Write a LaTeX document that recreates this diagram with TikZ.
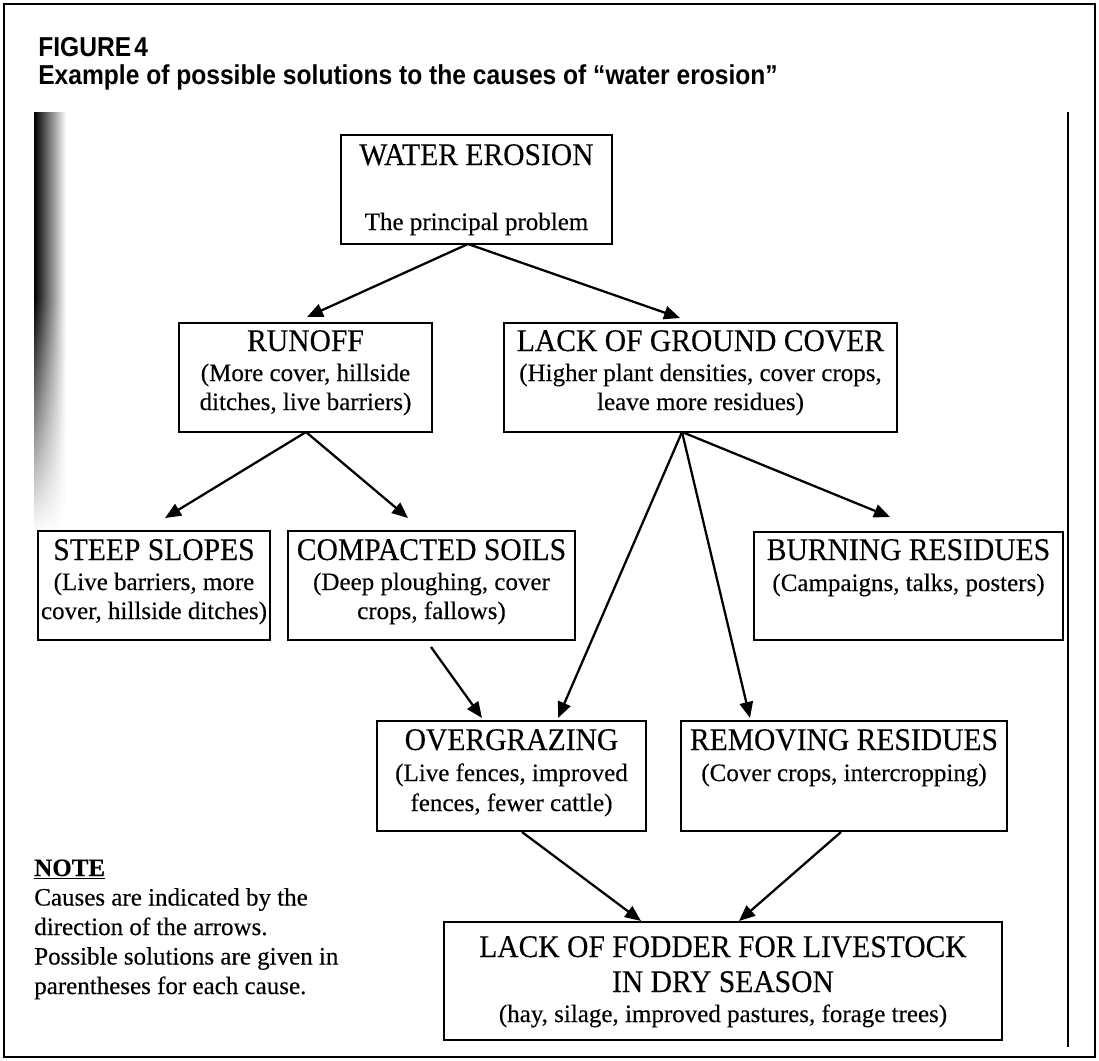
\documentclass[tikz,border=0pt]{standalone}
\usepackage{fontspec}
\setmainfont{Liberation Serif}[FakeBold=0.3]
\newfontfamily\titlefont{Liberation Sans}[FakeStretch=0.9]
\newfontfamily\headfont{Liberation Serif}[FakeStretch=0.94,FakeBold=0.3]
\usetikzlibrary{arrows.meta,fit,fadings}

\tikzset{
  box/.style={draw, line width=1.9pt, inner sep=0pt},
  title/.style={font=\titlefont\bfseries\fontsize{20.5pt}{24pt}\selectfont, anchor=base west, inner sep=0pt},
  head/.style={font=\headfont\fontsize{23.6pt}{28pt}\selectfont, anchor=base, inner sep=0pt},
  sub/.style={font=\fontsize{18.75pt}{22pt}\selectfont, anchor=base, inner sep=0pt},
  note/.style={sub, anchor=base west},
  cause/.style={-{Triangle[length=12pt,width=10pt]}, line width=1.7pt},
}

\begin{document}
\begin{tikzpicture}[x=0.75pt,y=-0.75pt]
\useasboundingbox (0,0) rectangle (1099,1060);

% outer frame
\draw[line width=2pt] (4,4) rectangle (1095,1057);

% figure title
\node[title] (fig) at (38,56) {FIGURE\hspace{0.12em}4};
\node[title] (caption) at (38,84) {Example of possible solutions to the causes of “water erosion”};

% dark page edge on the left and rule on the right
\shade[left color=black, middle color=black!35, right color=white] (34,112) rectangle (66,530);
\fill[white, path fading=north] (33,300) rectangle (67,531);
\draw[line width=1.4pt] (1068,112) -- (1068,1047);

% boxes
\node[box, fit={(341,135) (612,244)}] (water) {};
\node[box, fit={(179,323) (432,432)}] (runoff) {};
\node[box, fit={(504,323) (897,432)}] (lackgc) {};
\node[box, fit={(38,531) (270,640)}] (steep) {};
\node[box, fit={(288,531) (575,640)}] (compact) {};
\node[box, fit={(754,532) (1063,640)}] (burning) {};
\node[box, fit={(377,721) (646,831)}] (overgr) {};
\node[box, fit={(681,721) (1007,831)}] (removing) {};
\node[box, fit={(444,922) (1002,1040)}] (fodder) {};

% box texts
\node[head] (water-h) at (476.5,165) {WATER EROSION};
\node[sub]  (water-s) at (476.5,230) {The principal problem};

\node[head] (runoff-h) at (305.5,351) {RUNOFF};
\node[sub]  (runoff-1) at (305.5,381) {(More cover, hillside};
\node[sub]  (runoff-2) at (305.5,410) {ditches, live barriers)};

\node[head] (lackgc-h) at (700.5,351) {LACK OF GROUND COVER};
\node[sub]  (lackgc-1) at (700.5,381) {(Higher plant densities, cover crops,};
\node[sub]  (lackgc-2) at (700.5,410) {leave more residues)};

\node[head] (steep-h) at (154,560) {STEEP SLOPES};
\node[sub]  (steep-1) at (154,590) {(Live barriers, more};
\node[sub]  (steep-2) at (154,619) {cover, hillside ditches)};

\node[head] (compact-h) at (431.5,560) {COMPACTED SOILS};
\node[sub]  (compact-1) at (431.5,590) {(Deep ploughing, cover};
\node[sub]  (compact-2) at (431.5,619) {crops, fallows)};

\node[head] (burning-h) at (908.5,560) {BURNING RESIDUES};
\node[sub]  (burning-1) at (908.5,591) {(Campaigns, talks, posters)};

\node[head] (overgr-h) at (511.5,750) {OVERGRAZING};
\node[sub]  (overgr-1) at (511.5,781) {(Live fences, improved};
\node[sub]  (overgr-2) at (511.5,811) {fences, fewer cattle)};

\node[head] (removing-h) at (844,750) {REMOVING RESIDUES};
\node[sub]  (removing-1) at (844,781) {(Cover crops, intercropping)};

\node[head] (fodder-h1) at (723,957) {LACK OF FODDER FOR LIVESTOCK};
\node[head] (fodder-h2) at (723,992) {IN DRY SEASON};
\node[sub]  (fodder-1) at (723,1022) {(hay, silage, improved pastures, forage trees)};

% note
\node[note] (note-h) at (34,876) {\bfseries\underline{NOTE}};
\node[note] (note-1) at (34,905.5) {Causes are indicated by the};
\node[note] (note-2) at (34,935) {direction of the arrows.};
\node[note] (note-3) at (34,964.5) {Possible solutions are given in};
\node[note] (note-4) at (34,994) {parentheses for each cause.};

% connector end points
\coordinate (waterOut)   at (468,244);
\coordinate (runoffIn)   at (307,317);
\coordinate (lackgcIn)   at (680,318);
\coordinate (runoffOut)  at (306,432);
\coordinate (steepIn)    at (165,518);
\coordinate (compactIn)  at (408,518);
\coordinate (lackgcOut)  at (682,432);
\coordinate (burningIn)  at (890,517);
\coordinate (overgrInB)  at (558,718);
\coordinate (removingIn) at (750,718);
\coordinate (compactOut) at (431,647);
\coordinate (overgrInA)  at (482,718);
\coordinate (overgrOut)  at (522,832);
\coordinate (fodderInA)  at (641,921);
\coordinate (removingOut) at (841,832);
\coordinate (fodderInB)  at (739,921);

% causes
\draw[cause] (waterOut) -- (runoffIn);
\draw[cause] (waterOut) -- (lackgcIn);
\draw[cause] (runoffOut) -- (steepIn);
\draw[cause] (runoffOut) -- (compactIn);
\draw[cause] (lackgcOut) -- (burningIn);
\draw[cause] (lackgcOut) -- (overgrInB);
\draw[cause] (lackgcOut) -- (removingIn);
\draw[cause] (compactOut) -- (overgrInA);
\draw[cause] (overgrOut) -- (fodderInA);
\draw[cause] (removingOut) -- (fodderInB);
\end{tikzpicture}
\end{document}
